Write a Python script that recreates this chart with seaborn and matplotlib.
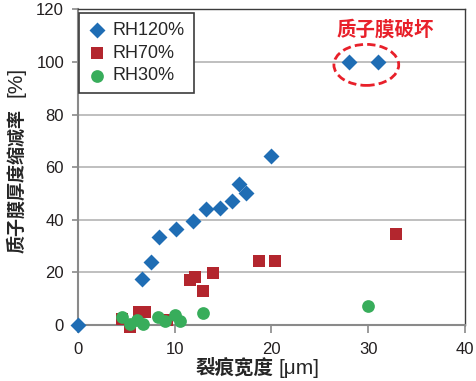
import pandas as pd
import matplotlib
matplotlib.use("Agg")
import matplotlib.pyplot as plt
from matplotlib.patches import Ellipse
import seaborn as sns

# crack width [um] vs membrane thickness reduction [%]
rh120_x = [0.0, 6.6, 7.5, 8.4, 10.1, 11.9, 13.2, 14.7, 15.9, 16.6, 17.4, 20.0, 28.0, 31.0]
rh120_y = [0.0, 17.5, 24.0, 33.6, 36.5, 39.7, 44.0, 44.6, 47.1, 53.6, 50.0, 64.3, 100.0, 100.0]

rh70_x = [4.5, 6.3, 6.9, 5.4, 9.2, 11.6, 12.1, 12.9, 14.0, 18.7, 20.4, 32.9]
rh70_y = [2.2, 5.0, 5.0, -0.6, 1.9, 17.1, 18.1, 12.8, 19.6, 24.4, 24.4, 34.6]

rh30_x = [4.5, 5.4, 6.1, 6.7, 8.3, 9.0, 10.0, 10.5, 12.9, 30.0]
rh30_y = [3.0, 0.5, 2.0, 0.5, 3.0, 1.6, 3.8, 1.6, 4.7, 7.3]

series_names = ["RH120%", "RH70%", "RH30%"]
series_colors = ["#1f6db4", "#b3262e", "#38ad5b"]
series_markers = ["D", "s", "o"]
series_sizes = [66, 80, 84]

df = pd.DataFrame({
    "width": rh120_x + rh70_x + rh30_x,
    "reduction": rh120_y + rh70_y + rh30_y,
    "series": ["RH120%"] * len(rh120_x) + ["RH70%"] * len(rh70_x) + ["RH30%"] * len(rh30_x),
})

sns.set_style("white")
plt.rcParams['font.family'] = ['Liberation Sans', 'Noto Sans CJK SC', 'DejaVu Sans']

fig = plt.figure(figsize=(4.77, 3.81), dpi=100)
ax = fig.add_axes([78 / 477, 1 - 325 / 381, 387 / 477, 315.6 / 381])

for name, color, marker, size in zip(series_names, series_colors, series_markers, series_sizes):
    sns.scatterplot(data=df[df["series"] == name], x="width", y="reduction",
                    color=color, marker=marker, s=size, linewidth=0,
                    label=name, clip_on=False, zorder=3, ax=ax)

ax.set_xlim(0, 40)
ax.set_ylim(0, 120)
ax.set_xticks([0, 10, 20, 30, 40])
ax.set_yticks([0, 20, 40, 60, 80, 100, 120])
ax.set_xlabel("")
ax.set_ylabel("")

# horizontal grid
for yv in [20, 40, 60, 80, 100]:
    ax.axhline(yv, color="#b4b4b4", lw=1.2, zorder=1)

for side in ["left", "bottom"]:
    ax.spines[side].set_color("#8a8a8a")
    ax.spines[side].set_linewidth(1.5)
for side in ["top", "right"]:
    ax.spines[side].set_color("#3c3c3c")
    ax.spines[side].set_linewidth(1.0)

ax.tick_params(axis="x", direction="out", length=6, width=1.2, color="#8a8a8a",
               pad=6, labelsize=12, labelcolor="#231f20", bottom=True)
ax.tick_params(axis="y", direction="out", length=4, width=1.2, color="#8a8a8a",
               pad=6, labelsize=12, labelcolor="#231f20", left=True)

# damaged membrane callout
ell = Ellipse((29.8, 98.9), 6.7, 15.6, fill=False, edgecolor="#e8202a",
              lw=2, ls=(0, (3, 1.5)), clip_on=False, zorder=4)
ax.add_patch(ell)
ax.text(31.8, 112.4, "质子膜破坏", color="#e8202a", fontsize=14, fontweight="bold",
        ha="center", va="center", zorder=5)

leg = ax.legend(loc="upper left", bbox_to_anchor=(0.003, 0.989), borderaxespad=0,
                fontsize=13, frameon=True, fancybox=False, framealpha=1,
                edgecolor="#3c3c3c", labelspacing=0.32, handletextpad=0.35,
                borderpad=0.5, handlelength=1.0)
leg.get_frame().set_linewidth(1.2)

# axis titles (bold CJK part, regular bracket part)
fig.text(195 / 477, 1 - 368 / 381, "裂痕宽度", fontsize=14, fontweight="bold",
         ha="left", va="center")
fig.text(279 / 477, 1 - 368 / 381, "[μm]", fontsize=15, ha="left", va="center")
fig.text(16.5 / 477, 1 - 253 / 381, "质子膜厚度缩减率", fontsize=13, fontweight="bold",
         rotation=90, ha="center", va="bottom")
fig.text(16.5 / 477, 1 - 97 / 381, "[%]", fontsize=15, rotation=90,
         ha="center", va="bottom")

fig.savefig("out.png", dpi=100)
